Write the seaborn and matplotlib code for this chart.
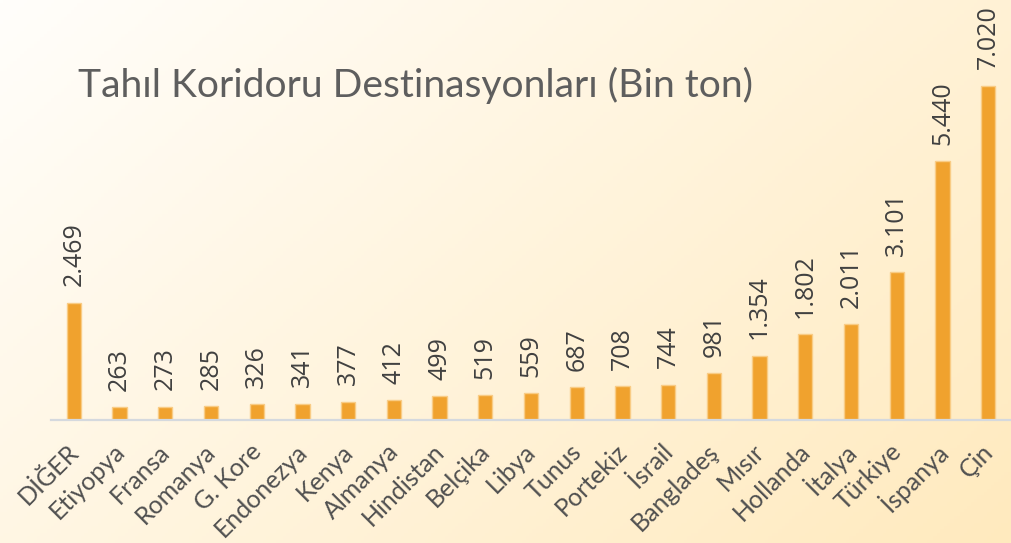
import numpy as np
import pandas as pd
import matplotlib
matplotlib.use("Agg")
import matplotlib.pyplot as plt
import matplotlib.transforms as mtransforms
import seaborn as sns

# Veri
ulkeler = ['DİĞER', 'Etiyopya', 'Fransa', 'Romanya', 'G. Kore', 'Endonezya',
           'Kenya', 'Almanya', 'Hindistan', 'Belçika', 'Libya', 'Tunus',
           'Portekiz', 'İsrail', 'Bangladeş', 'Mısır', 'Hollanda', 'İtalya',
           'Türkiye', 'İspanya', 'Çin']
miktar = [2469, 263, 273, 285, 326, 341, 377, 412, 499, 519, 559, 687,
          708, 744, 981, 1354, 1802, 2011, 3101, 5440, 7020]
baslik = 'Tahıl Koridoru Destinasyonları (Bin ton)'

df = pd.DataFrame({'ulke': ulkeler, 'miktar': miktar})

sns.set_style("white")
plt.rcParams['font.family'] = ['DejaVu Sans']

W, H = 1011, 543
fig = plt.figure(figsize=(W / 100, H / 100), dpi=100)

# arka plan gradyanı
bg = fig.add_axes([0, 0, 1, 1], zorder=-10)
gx, gy = np.meshgrid(np.linspace(0, 1, 300), np.linspace(0, 1, 160))
t = np.clip(0.62 * gx + 0.38 * gy, 0, 1)
c0 = np.array([255, 254, 251]) / 255
c1 = np.array([255, 234, 190]) / 255
img = c0[None, None, :] * (1 - t[..., None]) + c1[None, None, :] * t[..., None]
bg.imshow(img, aspect='auto', extent=[0, 1, 0, 1], origin='upper')
bg.axis('off')

base_y = 420
ax = fig.add_axes([51 / W, 1 - base_y / H, (W - 51) / W, base_y / H])
ax.set_facecolor('none')

sns.barplot(data=df, x='ulke', y='miktar', color='#F0A22E', width=0.31,
            edgecolor='#F9CC85', linewidth=1, saturation=1, ax=ax)

ax.set_xlim(-0.5, len(ulkeler) - 0.5)
ax.set_ylim(0, 7020 * base_y / 334)

etiketler = [f'{v:,}'.replace(',', '.') for v in miktar]
ax.bar_label(ax.containers[0], labels=etiketler, rotation=90, padding=12,
             fontsize=18, color='#404040', family=['Open Sans', 'DejaVu Sans'])

for s in ['top', 'left', 'right']:
    ax.spines[s].set_visible(False)
ax.spines['bottom'].set_color('#D5D9DE')
ax.spines['bottom'].set_linewidth(1.6)
ax.set_yticks([])
ax.set_xlabel('')
ax.set_ylabel('')
ax.tick_params(axis='x', length=0, pad=20)
offset = mtransforms.ScaledTranslation(1 / 100, 0, fig.dpi_scale_trans)
for lbl in ax.get_xticklabels():
    lbl.set_rotation(45)
    lbl.set_rotation_mode('anchor')
    lbl.set_ha('right')
    lbl.set_va('center')
    lbl.set_fontsize(18)
    lbl.set_family(['Lato', 'DejaVu Sans'])
    lbl.set_color('#505050')
    lbl.set_transform(lbl.get_transform() + offset)

# başlık, genişliği resme uydur
ttl = fig.text(78 / W, 1 - 97 / H, baslik, fontsize=30, color='#5E5E5E',
               va='baseline', ha='left',
               family=['Lato', 'DejaVu Sans'])
fig.canvas.draw()
bb = ttl.get_window_extent()
ttl.set_fontsize(30 * 674 / bb.width)

fig.savefig('out.png', dpi=100)
